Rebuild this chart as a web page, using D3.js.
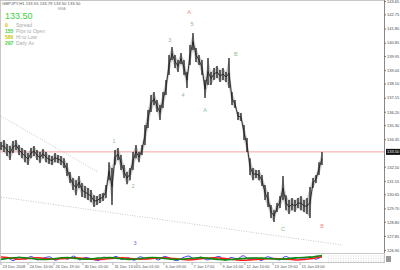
<!DOCTYPE html>
<html>
<head>
<meta charset="utf-8">
<script src="https://cdn.jsdelivr.net/npm/d3@7"></script>
<style>
  body { margin: 0; background: #fff; }
  svg { display: block; }
  text { font-family: "Liberation Sans", Arial, sans-serif; }
</style>
</head>
<body>
<svg id="chart" width="400" height="270"></svg>
<script>
// bar highs / lows (GBPJPY, one column per few bars)
var highs = [134.16,134.30,134.03,133.89,134.23,134.30,133.96,133.76,133.62,133.42,
  133.76,133.89,133.62,133.49,133.69,133.49,133.29,133.22,133.42,133.29,
  133.22,133.08,132.75,132.14,131.74,131.60,131.87,131.40,131.20,131.07,
  130.93,130.59,130.53,130.66,130.73,131.27,132.81,132.41,133.62,133.76,
  133.29,132.61,132.14,132.41,133.49,133.96,133.49,133.96,135.31,136.31,
  137.32,137.53,136.99,136.65,137.53,138.33,140.02,140.55,140.02,139.68,
  140.15,139.68,138.87,140.69,141.50,140.49,140.02,139.68,138.33,139.81,
  138.87,139.14,139.28,139.01,139.14,138.87,139.81,137.53,136.99,136.18,
  136.11,135.31,134.43,133.08,132.41,132.28,132.28,131.94,131.27,130.80,
  129.92,129.58,130.06,130.53,131.87,130.59,130.26,130.39,130.26,130.39,
  130.53,130.26,130.39,131.13,131.74,131.94,132.81,133.49];
var lows = [133.62,133.49,133.22,132.95,133.42,133.62,133.29,133.08,132.81,132.61,
  133.08,133.22,132.95,132.75,133.08,132.81,132.68,132.61,132.81,132.75,
  132.61,132.41,131.87,131.40,130.93,130.59,131.07,130.46,130.39,130.26,
  130.12,129.79,129.92,130.06,130.19,130.39,131.60,129.92,132.61,132.95,
  132.28,131.74,131.33,131.60,132.28,133.08,132.81,133.29,133.96,135.10,
  136.18,136.65,136.18,135.64,136.45,137.32,138.67,139.68,139.14,138.87,
  139.41,138.67,137.79,139.34,140.35,139.54,139.34,138.67,137.12,138.00,
  138.00,138.33,138.47,138.20,138.33,138.20,137.79,136.65,136.45,135.64,
  135.57,134.30,133.49,131.94,131.60,131.74,131.60,131.20,130.26,129.79,
  129.05,128.78,129.45,129.72,130.26,129.58,129.32,129.58,129.45,129.72,
  129.58,129.45,129.32,129.05,131.07,131.40,131.94,132.61];

var priceTicks = [143.65,142.75,141.80,140.85,139.95,139.00,138.10,137.15,136.20,135.30,
  134.35,132.50,131.55,130.65,129.70,128.80,127.85,126.90];
var lastPrice = 133.50;

var dateTicks = [0, 9, 17.7, 27.3, 37.3, 45.3, 54.3, 63.7, 73.3, 81.3, 90.7, 99.7];
var dateLabels = ["23 Dec 2008","24 Dec 10:00","26 Dec 19:00","30 Dec 05:00","31 Dec 13:00",
  "5 Jan 01:00","6 Jan 09:00","7 Jan 17:00","9 Jan 01:00","12 Jan 10:00","13 Jan 19:00","15 Jan 03:00"];

// elliott wave marks: [label, bar index, price, colour]
var waveLabels = [
  ["A", 62.7, 142.80, "#f08a8a"],
  ["5", 63.7, 142.00, "#8fb98f"],
  ["3", 56.3, 140.90, "#8fb98f"],
  ["B", 78.3, 139.95, "#8fb98f"],
  ["4", 60.7, 137.20, "#8fb98f"],
  ["A", 68.0, 136.20, "#8fb98f"],
  ["1", 37.7, 134.10, "#8fb98f"],
  ["2", 44.0, 131.05, "#8fb98f"],
  ["C", 94.0, 128.20, "#8fb98f"],
  ["B", 107.0, 128.35, "#f08a8a"],
  ["3", 44.7, 127.25, "#6a6ad8"]
];

// trend lines: [[index, price], [index, price]]
var trendLines = [
  [[0, 135.91], [32.3, 132.14]],
  [[0, 130.46], [114, 127.23]]
];

// oscillator panel (0..100)
var oscRed = [70,65,50,40,45,55,60,55,45,40,45,55,60,58,50,40,35,40,50,55,60,55,45,40,42,50,58,
  62,55,45,35,30,35,45,55,60,58,50,40,30,25,28,35,40,45,50,45,40,35,30,35,45,60,75];
var oscGreen = [40,50,60,65,60,50,40,35,40,50,60,62,55,45,40,45,55,60,62,55,45,38,40,50,60,65,60,
  50,40,38,42,50,58,62,55,45,35,30,35,45,50,55,58,55,50,45,40,45,55,60,65,70,80,92];
var oscBlue = [30,60,20,70,40,80,30,55,75,25,60,40,85,30,65,45,20,70,50,80,35,60,25,75,45,65,30,
  80,50,20,60,85,40,70,30,55,80,25,65,45,90,35,60,20,75,50,30,80,45,60,55,70,40,85];

var svg = d3.select("#chart");
var axisX = 384, mainBottom = 253;

var x = d3.scaleLinear().domain([0, highs.length - 1]).range([1, 322]);
var y = d3.scaleLinear().domain([126.90, 143.65]).range([250, 1]);

// frame
svg.append("rect").attr("x", 0.5).attr("y", 0.5).attr("width", axisX).attr("height", mainBottom)
  .attr("fill", "none").attr("stroke", "#c8c8c8").attr("stroke-width", 1);

// last price line
svg.append("line").attr("x1", 0).attr("x2", axisX).attr("y1", y(lastPrice)).attr("y2", y(lastPrice))
  .attr("stroke", "#f4a0a0").attr("stroke-width", 1);

// trend lines
svg.append("g").selectAll("line").data(trendLines).enter().append("line")
  .attr("x1", function(d) { return x(d[0][0]); })
  .attr("y1", function(d) { return y(d[0][1]); })
  .attr("x2", function(d) { return x(d[1][0]); })
  .attr("y2", function(d) { return y(d[1][1]); })
  .attr("stroke", "#a9c4a9").attr("stroke-width", 0.8).attr("stroke-dasharray", "1,1.5");

// price bars: a faint band between highs and lows, then the bars on top
var band = d3.area()
  .x(function(d, i) { return x(i); })
  .y0(function(d, i) { return y(lows[i]); })
  .y1(function(d) { return y(d); });
svg.append("path").datum(highs).attr("d", band).attr("fill", "#9a9a9a").attr("opacity", 0.55);

svg.append("g").selectAll("line").data(highs).enter().append("line")
  .attr("x1", function(d, i) { return x(i); })
  .attr("x2", function(d, i) { return x(i); })
  .attr("y1", function(d) { return y(d); })
  .attr("y2", function(d, i) { return y(lows[i]); })
  .attr("stroke", "#111").attr("stroke-width", 1.2);

var mid = d3.line()
  .x(function(d, i) { return x(i); })
  .y(function(d, i) { return y((d + lows[i]) / 2); });
svg.append("path").datum(highs).attr("d", mid).attr("fill", "none")
  .attr("stroke", "#222").attr("stroke-width", 0.9);

// wave labels
svg.append("g").selectAll("text").data(waveLabels).enter().append("text")
  .attr("x", function(d) { return x(d[1]); })
  .attr("y", function(d) { return y(d[2]); })
  .attr("text-anchor", "middle").attr("font-size", 5.5)
  .attr("fill", function(d) { return d[3]; })
  .text(function(d) { return d[0]; });

// right price axis
var yAxis = d3.axisRight(y).tickValues(priceTicks).tickSize(2).tickFormat(d3.format(".2f"));
var ag = svg.append("g").attr("transform", "translate(" + axisX + ",0)").call(yAxis);
ag.select(".domain").attr("stroke", "#888").attr("d", "M0.5,0V" + mainBottom);
ag.selectAll(".tick line").attr("stroke", "#777");
ag.selectAll(".tick text").attr("x", 3).attr("font-size", 4).attr("fill", "#444")
  .attr("font-family", "Liberation Sans, Arial, sans-serif");

// last price box
svg.append("rect").attr("x", axisX + 2).attr("y", y(lastPrice) - 3).attr("width", 14).attr("height", 6)
  .attr("fill", "#111");
svg.append("text").attr("x", axisX + 3).attr("y", y(lastPrice) + 1.5)
  .attr("font-size", 4).attr("fill", "#fff").text(d3.format(".2f")(lastPrice));

// oscillator panel
var oTop = 254, oBot = 263;
var ox = d3.scaleLinear().domain([0, oscRed.length - 1]).range([1, 322]);
var oy = d3.scaleLinear().domain([0, 100]).range([oBot - 1, oTop + 1]);
svg.append("rect").attr("x", 0.5).attr("y", oTop - 0.5).attr("width", axisX).attr("height", oBot - oTop)
  .attr("fill", "none").attr("stroke", "#c8c8c8");
[0, 1, 2].forEach(function(k) {
  svg.append("line").attr("x1", 328).attr("x2", axisX).attr("y1", oTop + 2 + k * 2.5).attr("y2", oTop + 2 + k * 2.5)
    .attr("stroke", "#bbb").attr("stroke-width", 0.6).attr("stroke-dasharray", "1,1.5");
});
var oline = d3.line().x(function(d, i) { return ox(i); }).y(function(d) { return oy(d); }).curve(d3.curveMonotoneX);
svg.append("path").datum(oscBlue).attr("d", oline).attr("fill", "none").attr("stroke", "#2a2aff").attr("stroke-width", 0.9);
svg.append("path").datum(oscRed).attr("d", oline).attr("fill", "none").attr("stroke", "#ff1a1a").attr("stroke-width", 1.5);
svg.append("path").datum(oscGreen).attr("d", oline).attr("fill", "none").attr("stroke", "#108a10").attr("stroke-width", 1.6);
svg.append("rect").attr("x", axisX + 2).attr("y", oTop + 2).attr("width", 5).attr("height", 6).attr("fill", "#999");

// date axis
var dg = svg.append("g");
dg.selectAll("line").data(dateTicks).enter().append("line")
  .attr("x1", function(d) { return x(d); }).attr("x2", function(d) { return x(d); })
  .attr("y1", oBot).attr("y2", oBot + 2).attr("stroke", "#777").attr("stroke-width", 0.6);
dg.selectAll("text").data(dateTicks).enter().append("text")
  .attr("x", function(d) { return x(d) + 1.5; }).attr("y", 268)
  .attr("font-size", 4).attr("fill", "#555")
  .text(function(d, i) { return dateLabels[i]; });

// info block top-left
svg.append("text").attr("x", 2).attr("y", 5).attr("font-size", 4.2).attr("fill", "#555")
  .text("GBPJPY,H1  133.55 133.79 133.50 133.50");
svg.append("text").attr("x", 58).attr("y", 10).attr("font-size", 3.5).attr("fill", "#999").text("EMA");
svg.append("text").attr("x", 5).attr("y", 19).attr("font-size", 9).attr("fill", "#3fcf3f").text("133.50");
var info = [["9", "Spread", "#e8b800"], ["155", "Pips to Open", "#3fcf3f"],
            ["586", "Hi to Low", "#c8c800"], ["297", "Daily Av", "#3fcf3f"]];
info.forEach(function(r, i) {
  svg.append("text").attr("x", 5).attr("y", 27 + i * 6).attr("font-size", 5).attr("font-weight", "bold")
    .attr("fill", r[2]).text(r[0]);
  svg.append("text").attr("x", 16).attr("y", 27 + i * 6).attr("font-size", 5).attr("fill", "#aaa").text(r[1]);
});
</script>
</body>
</html>
